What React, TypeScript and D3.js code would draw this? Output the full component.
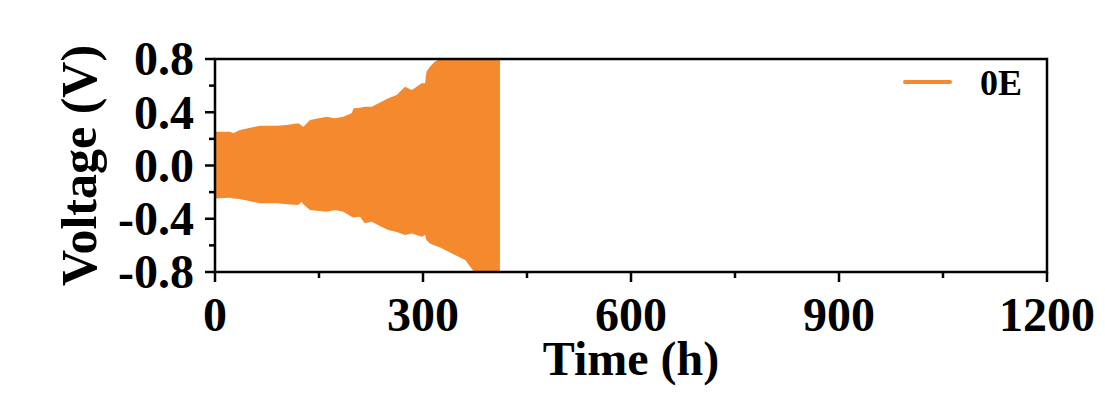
import React, { useEffect, useRef } from "react";
import * as d3 from "d3";

// envelope of the dense charge/discharge trace
const time = [0, 22, 26, 36, 65, 89, 103, 120, 125, 127, 137, 161, 173, 185, 197, 200, 209, 216, 226, 240, 250, 262, 274, 284, 298, 303, 305, 310, 317, 324, 327, 346, 361, 368, 374, 380, 395, 411];
const upper = [0.254, 0.254, 0.242, 0.267, 0.299, 0.299, 0.305, 0.317, 0.3, 0.29, 0.342, 0.367, 0.355, 0.367, 0.392, 0.43, 0.434, 0.442, 0.442, 0.479, 0.505, 0.53, 0.592, 0.567, 0.618, 0.618, 0.705, 0.742, 0.78, 0.8, 0.8, 0.8, 0.8, 0.8, 0.8, 0.8, 0.8, 0.8];
const lower = [-0.247, -0.242, -0.247, -0.252, -0.284, -0.284, -0.292, -0.297, -0.272, -0.29, -0.334, -0.347, -0.334, -0.347, -0.385, -0.39, -0.385, -0.434, -0.422, -0.46, -0.485, -0.5, -0.522, -0.51, -0.535, -0.522, -0.56, -0.585, -0.6, -0.615, -0.622, -0.672, -0.71, -0.76, -0.8, -0.8, -0.8, -0.8];

const xTicks = [0, 300, 600, 900, 1200];
const xMinor = [150, 450, 750, 1050];
const yTicks = [0.8, 0.4, 0.0, -0.4, -0.8];
const yMinor = [0.6, 0.2, -0.2, -0.6];

const ORANGE = "#F4892D";
const FONT = "'Liberation Serif', 'Times New Roman', serif";

const App = () => {
  const svgRef = useRef<SVGSVGElement>(null);

  useEffect(() => {
    const svg = d3.select(svgRef.current);
    svg.selectAll("*").remove();

    const left = 215, right = 1047, top = 59, bottom = 272;
    const x = d3.scaleLinear().domain([0, 1200]).range([left, right]);
    const y = d3.scaleLinear().domain([-0.8, 0.8]).range([bottom, top]);

    svg.append("rect").attr("width", 1105).attr("height", 405).attr("fill", "#fff");

    // trace band
    const pts = time.map((t, i) => ({ t, hi: upper[i], lo: lower[i] }));
    svg
      .append("path")
      .datum(pts)
      .attr("fill", ORANGE)
      .attr(
        "d",
        d3
          .area<any>()
          .x((d) => x(d.t))
          .y0((d) => y(d.lo))
          .y1((d) => y(d.hi))
      );

    const g = svg.append("g").attr("stroke", "#000").attr("stroke-width", 2.5);

    // frame
    g.append("rect")
      .attr("x", left)
      .attr("y", top)
      .attr("width", right - left)
      .attr("height", bottom - top)
      .attr("fill", "none");

    // x ticks
    g.selectAll(".xt")
      .data(xTicks)
      .join("line")
      .attr("x1", (d) => x(d))
      .attr("x2", (d) => x(d))
      .attr("y1", bottom)
      .attr("y2", bottom + 10);
    g.selectAll(".xm")
      .data(xMinor)
      .join("line")
      .attr("x1", (d) => x(d))
      .attr("x2", (d) => x(d))
      .attr("y1", bottom)
      .attr("y2", bottom + 6);

    // y ticks
    g.selectAll(".yt")
      .data(yTicks)
      .join("line")
      .attr("y1", (d) => y(d))
      .attr("y2", (d) => y(d))
      .attr("x1", left)
      .attr("x2", left - 10);
    g.selectAll(".ym")
      .data(yMinor)
      .join("line")
      .attr("y1", (d) => y(d))
      .attr("y2", (d) => y(d))
      .attr("x1", left)
      .attr("x2", left - 6);

    const txt = svg
      .append("g")
      .attr("font-family", FONT)
      .attr("font-weight", "bold")
      .attr("fill", "#000");

    txt
      .selectAll(".xl")
      .data(xTicks)
      .join("text")
      .attr("x", (d) => x(d))
      .attr("y", 331)
      .attr("text-anchor", "middle")
      .attr("font-size", 48)
      .text((d) => String(d));

    txt
      .selectAll(".yl")
      .data(yTicks)
      .join("text")
      .attr("x", 194)
      .attr("y", (d) => y(d))
      .attr("dy", "0.34em")
      .attr("text-anchor", "end")
      .attr("font-size", 48)
      .text((d) => d3.format(".1f")(d).replace("\u2212", "-"));

    txt
      .append("text")
      .attr("x", (left + right) / 2)
      .attr("y", 375)
      .attr("text-anchor", "middle")
      .attr("font-size", 48)
      .text("Time (h)");

    txt
      .append("text")
      .attr("transform", `translate(96,${(top + bottom) / 2}) rotate(-90)`)
      .attr("text-anchor", "middle")
      .attr("font-size", 50)
      .text("Voltage (V)");

    // legend
    svg
      .append("line")
      .attr("x1", 905)
      .attr("x2", 950)
      .attr("y1", 82)
      .attr("y2", 82)
      .attr("stroke", ORANGE)
      .attr("stroke-width", 4)
      .attr("stroke-linecap", "round");
    txt
      .append("text")
      .attr("x", 980)
      .attr("y", 95)
      .attr("font-size", 36)
      .text("0E");
  }, []);

  return (
    <svg
      ref={svgRef}
      width={1105}
      height={405}
      style={{ position: "absolute", left: 0, top: 0 }}
    />
  );
};

export default App;
